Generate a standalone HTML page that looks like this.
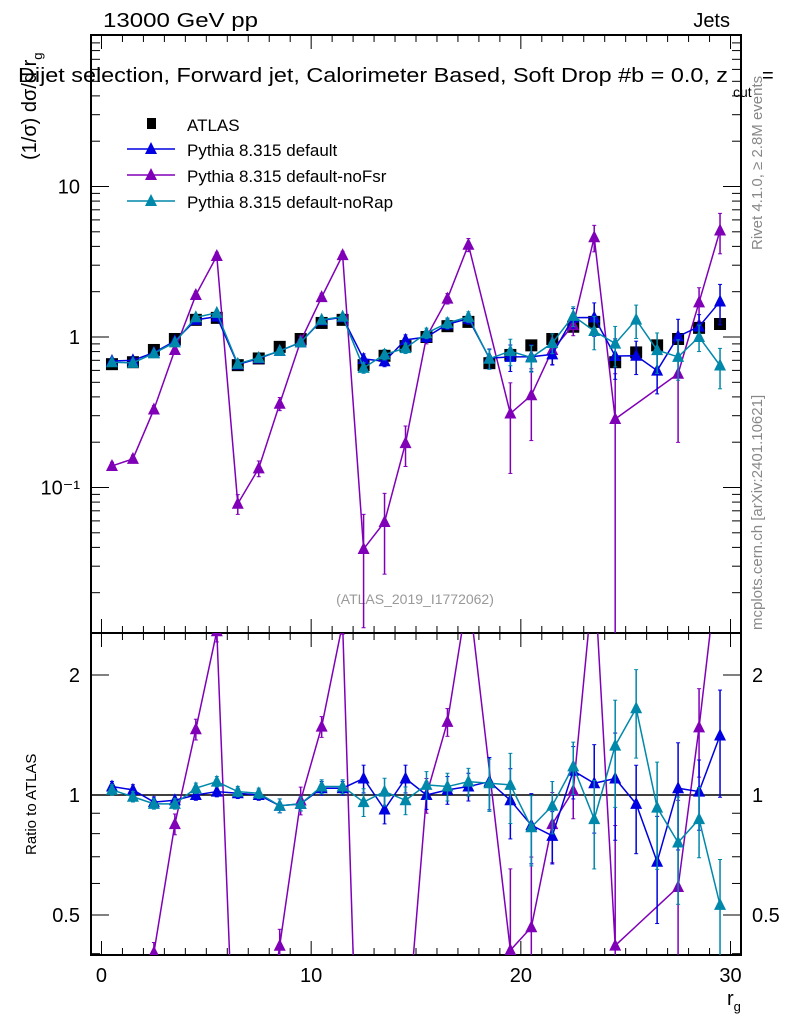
<!DOCTYPE html>
<html><head><meta charset="utf-8">
<style>
html,body{margin:0;padding:0;background:#fff;overflow:hidden;width:786px;height:1024px;}
svg{display:block;font-family:"Liberation Sans",sans-serif;}
</style></head>
<body>
<svg id="chart" width="786" height="1024" viewBox="0 0 786 1024" xmlns="http://www.w3.org/2000/svg">
<defs>
<clipPath id="cm"><rect x="91" y="35" width="650" height="598"/></clipPath>
<clipPath id="cr"><rect x="91" y="633" width="650" height="322"/></clipPath>
</defs>
<text x="103" y="27" font-size="20" textLength="155" lengthAdjust="spacingAndGlyphs">13000 GeV pp</text>
<text x="730" y="27" font-size="20" text-anchor="end">Jets</text>
<text x="18" y="82" font-size="20" textLength="710" lengthAdjust="spacingAndGlyphs">Dijet selection, Forward jet, Calorimeter Based, Soft Drop #b = 0.0, z</text>
<text x="733" y="97" font-size="14">cut</text>
<text x="762" y="82" font-size="20">=</text>
<text transform="translate(36,160) rotate(-90)" font-size="20">(1/σ) dσ/d r<tspan font-size="13" dy="6">g</tspan></text>
<text transform="translate(762,250) rotate(-90)" font-size="15" fill="#888">Rivet 4.1.0, ≥ 2.8M events</text>
<text transform="translate(762,630) rotate(-90)" font-size="15" fill="#888">mcplots.cern.ch [arXiv:2401.10621]</text>
<text x="415" y="604" font-size="14" fill="#999" text-anchor="middle">(ATLAS_2019_I1772062)</text>
<text transform="translate(36,855) rotate(-90)" font-size="15">Ratio to ATLAS</text>
<text x="727" y="1005" font-size="20">r<tspan font-size="13" dy="6">g</tspan></text>
<g id="g"></g>
</svg>
<script>
const bins=[0.5,1.5,2.5,3.5,4.5,5.5,6.5,7.5,8.5,9.5,10.5,11.5,12.5,13.5,14.5,15.5,16.5,17.5,18.5,19.5,20.5,21.5,22.5,23.5,24.5,25.5,26.5,27.5,28.5,29.5];
const dataVals=[0.66,0.68,0.82,0.97,1.3,1.34,0.65,0.72,0.86,0.97,1.24,1.3,0.65,0.75,0.87,1.0,1.18,1.26,0.67,0.76,0.88,0.97,1.17,1.26,0.68,0.79,0.88,0.97,1.15,1.22];
const defRatio=[1.05,1.03,0.96,0.97,1.0,1.02,1.01,1.0,0.94,0.95,1.04,1.04,1.1,0.92,1.1,1.0,1.03,1.05,1.08,0.97,0.84,0.79,1.15,1.07,1.1,0.95,0.68,1.04,1.02,1.41];
const noRapRatio=[1.03,0.99,0.95,0.95,1.04,1.08,1.02,1.01,0.94,0.95,1.05,1.05,0.96,1.02,0.97,1.06,1.05,1.08,1.07,1.06,0.83,0.94,1.18,0.87,1.33,1.65,0.93,0.76,0.87,0.53];
const noFsrVals=[0.139,0.155,0.33,0.82,1.9,3.45,0.078,0.134,0.36,0.94,1.84,3.5,0.039,0.059,0.197,1.0,1.8,4.1,null,0.31,0.41,0.82,1.2,4.6,0.285,null,null,0.57,1.7,5.1];
const dataErr=[0.03,0.03,0.03,0.03,0.03,0.03,0.03,0.03,0.03,0.03,0.03,0.03,0.04,0.04,0.04,0.04,0.04,0.04,0.05,0.05,0.05,0.05,0.05,0.05,0.06,0.06,0.06,0.06,0.06,0.06];
const mcErr=[0.03,0.03,0.03,0.03,0.03,0.03,0.03,0.03,0.04,0.04,0.04,0.04,0.08,0.08,0.08,0.08,0.08,0.08,0.15,0.2,0.2,0.15,0.15,0.25,0.3,0.25,0.3,0.3,0.2,0.3];
const noFsrErr=[0.06,0.06,0.06,0.06,0.06,0.06,0.15,0.12,0.1,0.08,0.06,0.06,0.7,0.55,0.3,0.1,0.08,0.1,0,0.6,0.5,0.2,0.15,0.2,1.0,0,0,0.65,0.25,0.3];
const xTicks=[0,10,20,30];
const mainTicks=[[0.1,"10⁻¹"],[1,"1"],[10,"10"]];
const ratioTicks=[[0.5,"0.5"],[1,"1"],[2,"2"]];

const NS="http://www.w3.org/2000/svg";
const G=document.getElementById('g');
const X0=91,X1=741,Ym0=35,Ym1=633,Yr1=955;
const xs=v=>X0+(v+0.5)/31*(X1-X0);
const ym=v=>337-Math.log10(v)*150.5;
const yr=v=>795-Math.log10(v)*398.7;
function el(t,a,p){const e=document.createElementNS(NS,t);for(const k in a)e.setAttribute(k,a[k]);(p||G).appendChild(e);return e;}
const f1=el('rect',{x:X0,y:Ym0,width:X1-X0,height:Ym1-Ym0,fill:'none',stroke:'#000','stroke-width':2});


const f2=el('rect',{x:X0,y:Ym1,width:X1-X0,height:Yr1-Ym1,fill:'none',stroke:'#000','stroke-width':2});


for(let v=0;v<=30;v++){const big=v%10===0,L=big?14:7;const x=xs(v);
 for(const [yb,yt] of [[Ym1,Ym0],[Yr1,Ym1]]){el('line',{x1:x,x2:x,y1:yb,y2:yb-L,stroke:'#000'});el('line',{x1:x,x2:x,y1:yt,y2:yt+L,stroke:'#000'});}}
xTicks.forEach(v=>{const t=el('text',{x:xs(v),y:982,'font-size':20,'text-anchor':'middle'});t.textContent=v;
 
 });
for(let d=-2;d<=1;d++)for(let m=1;m<10;m++){const v=m*Math.pow(10,d);const y=ym(v);if(y<Ym0||y>Ym1)continue;const L=m===1?18:9;
 el('line',{x1:X0,x2:X0+L,y1:y,y2:y,stroke:'#000'});el('line',{x1:X1,x2:X1-L,y1:y,y2:y,stroke:'#000'});}
mainTicks.forEach(([v,s])=>{const t=el('text',{x:80,y:ym(v)+7,'font-size':20,'text-anchor':'end'});t.textContent=s;
 
 });
[0.4,0.5,0.6,0.7,0.8,0.9,1,2].forEach(v=>{const y=yr(v);const L=(v===0.5||v===1||v===2)?18:9;
 el('line',{x1:X0,x2:X0+L,y1:y,y2:y,stroke:'#000'});el('line',{x1:X1,x2:X1-L,y1:y,y2:y,stroke:'#000'});});
ratioTicks.forEach(([v,s])=>{for(const [x,a] of [[80,'end'],[752,'start']]){const t=el('text',{x:x,y:yr(v)+7,'font-size':20,'text-anchor':a});t.textContent=s;
 
 }});
el('line',{x1:X0,x2:X1,y1:yr(1),y2:yr(1),stroke:'#000','stroke-width':1.5});
const gm=el('g',{'clip-path':'url(#cm)'});const gr=el('g',{'clip-path':'url(#cr)'});
function tri(p,x,y,c){el('polygon',{points:`${x},${y-7} ${x-6},${y+5} ${x+6},${y+5}`,fill:c},p);}
function series(vals,errs,c,name){
 const rat=vals.map((v,i)=>v==null?null:v/dataVals[i]);
 for(const [p,fy,arr,ea] of [[gm,ym,vals,errs.map((e,i)=>vals[i]==null?0:e*vals[i])],[gr,yr,rat,errs.map((e,i)=>rat[i]==null?0:e*rat[i])]]){
  const g=el('g',{},p);
  
  
  let pts=[];arr.forEach((v,i)=>{if(v!=null)pts.push(xs(bins[i])+','+fy(v));});
  el('polyline',{points:pts.join(' '),fill:'none',stroke:c,'stroke-width':1.5},g);
  arr.forEach((v,i)=>{if(v==null)return;const x=xs(bins[i]);const lo=Math.max(v-ea[i],1e-4),hi=v+ea[i];
   el('line',{x1:x,x2:x,y1:fy(lo),y2:fy(hi),stroke:c,'stroke-width':1.5},g);
   el('line',{x1:x-2,x2:x+2,y1:fy(hi),y2:fy(hi),stroke:c},g);el('line',{x1:x-2,x2:x+2,y1:fy(lo),y2:fy(lo),stroke:c},g);
   tri(g,x,fy(v),c);});}
}
const gd=el('g',{},gm);


dataVals.forEach((v,i)=>{const x=xs(bins[i]),y=ym(v);el('line',{x1:x,x2:x,y1:ym(v*(1-dataErr[i])),y2:ym(v*(1+dataErr[i])),stroke:'#000'},gd);
 el('rect',{x:x-6,y:y-6,width:12,height:12,fill:'#000'},gd);});
series(noFsrVals,noFsrErr,'#8000b8','pythia-nofsr');
series(dataVals.map((d,i)=>d*defRatio[i]),mcErr,'#0000e0','pythia-default');
series(dataVals.map((d,i)=>d*noRapRatio[i]),mcErr,'#0088aa','pythia-norap');
const lg=el('g',{});


el('rect',{x:147,y:118,width:9,height:11,fill:'#000'},lg);
const labs=[['ATLAS',null,124],['Pythia 8.315 default','#0000e0',149],['Pythia 8.315 default-noFsr','#8000b8',175],['Pythia 8.315 default-noRap','#0088aa',201]];
labs.forEach(([s,c,y])=>{if(c){el('line',{x1:127,x2:175,y1:y,y2:y,stroke:c,'stroke-width':1.5},lg);tri(lg,151,y,c);}
 const t=el('text',{x:187,y:y+7,'font-size':17},lg);t.textContent=s;
 
 });
</script>
</body></html>
